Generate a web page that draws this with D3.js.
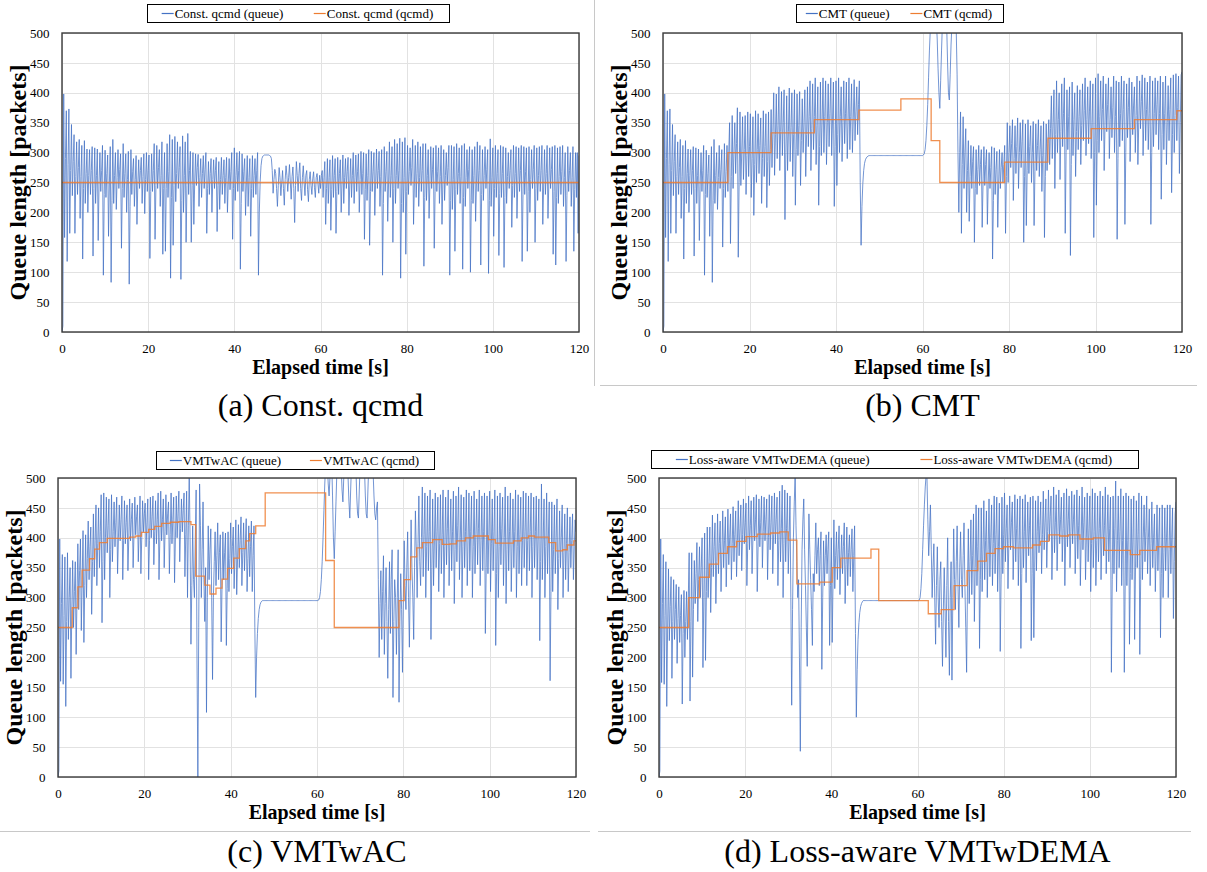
<!DOCTYPE html>
<html>
<head>
<meta charset="utf-8">
<script src="https://cdn.jsdelivr.net/npm/d3@7"></script>
<style>
  body { margin: 0; background: #fff; }
  svg { display: block; }
</style>
</head>
<body>
<svg id="fig" width="1207" height="872"></svg>
<script>
// ---------- shared axis values ----------
const SAMPLE_INTERVAL = 0.2;          // seconds between queue samples
const xTicks = [0, 20, 40, 60, 80, 100, 120];
const yTicks = [0, 50, 100, 150, 200, 250, 300, 350, 400, 450, 500];

// ---------- (a) Const. qcmd ----------
const constQueue = [
  0,10,398, 158,290,370, 118,280,373, 165,270,347, 228,285,330, 165,260,318, 230,275,322, 190,260,312, 122,240,320, 215,265,306,
  200,262,305, 230,270,310, 127,240,308, 215,262,306, 153,250,300, 235,270,312, 95,230,304, 225,265,296, 160,250,310, 83,220,322,
  215,262,300, 205,258,305, 240,272,298, 140,240,315, 225,265,298, 200,255,302, 80,210,305, 230,268,290, 210,255,295, 180,248,288,
  240,270,292, 215,260,298, 198,255,300, 235,270,296, 123,235,298, 235,270,315, 155,245,312, 240,275,305, 210,262,318, 130,240,300,
  135,240,315, 225,268,330, 90,225,322, 145,245,327, 218,265,318, 240,275,310, 88,220,328, 200,262,318, 150,245,332, 230,270,302,
  150,245,300, 180,250,298, 245,275,297, 210,258,290, 225,265,295, 240,272,300, 165,240,285, 230,265,290, 200,255,288, 240,270,292,
  168,245,285, 205,255,292, 230,262,288, 215,258,292, 200,250,290, 238,268,300, 155,240,308, 220,262,300, 235,270,302, 105,215,298,
  235,268,290, 195,250,295, 210,258,290, 160,240,295, 225,262,290, 230,270,300, 95,200,252, 278,290,294, 295,296,296, 296,296,296,
  296,295,294, 290,270,232, 255,272,265, 240,210,245, 275,258,228, 250,270,240, 212,255,278, 262,235,258, 280,250,222, 260,276,240,
  183,245,285, 262,235,265, 283,240,220, 258,278,250, 228,262,270, 238,218,255, 268,245,230, 256,268,242, 225,258,265, 248,232,262,
  240,262,270, 225,258,285, 180,240,290, 215,258,288, 170,238,295, 225,262,290, 165,235,292, 230,265,288, 200,250,296, 215,258,290,
  240,268,292, 195,250,290, 225,262,300, 215,258,296, 235,268,298, 200,255,302, 230,265,300, 155,238,298, 220,262,305, 145,235,302,
  235,268,300, 195,252,306, 240,270,302, 210,260,305, 95,215,310, 235,268,302, 185,250,318, 225,262,310, 150,240,322, 215,262,315,
  240,270,324, 90,215,318, 200,258,325, 130,235,312, 230,268,308, 245,275,322, 180,248,312, 225,265,318, 210,258,310, 235,270,315,
  110,225,315, 220,262,305, 190,250,310, 240,272,308, 140,235,312, 235,268,308, 215,260,312, 180,248,305, 220,262,300, 245,275,312,
  95,220,312, 205,255,310, 135,238,315, 230,265,308, 215,260,312, 105,225,315, 210,258,305, 240,272,310, 100,220,305, 215,262,310,
  185,248,318, 235,270,312, 112,230,305, 220,262,310, 240,272,305, 98,220,323, 210,258,308, 160,240,312, 225,265,305, 128,232,312,
  225,265,310, 108,225,308, 215,260,300, 240,270,305, 175,245,312, 225,265,310, 190,250,308, 235,270,312, 118,230,310, 230,268,308,
  135,235,310, 200,255,305, 240,272,312, 150,240,308, 220,262,310, 235,270,312, 180,248,305, 230,265,312, 190,250,308, 240,272,310,
  130,235,312, 112,225,308, 215,260,310, 230,268,312, 210,258,300, 118,228,310, 235,270,300, 210,258,310, 135,238,300, 225,300,165,
  295
];
const constQcmdTimes = [0, 120];
const constQcmdLevels = [250, 250];

// ---------- (b) CMT ----------
const cmtQueue = [
  0,10,398, 158,290,370, 118,280,373, 165,270,347, 228,285,330, 165,260,318, 230,275,322, 190,260,312, 122,240,320, 215,265,306,
  200,262,305, 230,270,310, 127,240,308, 215,262,306, 153,250,300, 235,270,312, 95,230,304, 225,265,296, 160,250,310, 83,220,322,
  215,262,300, 205,258,312, 240,272,305, 142,240,315, 225,268,312, 235,300,350, 148,260,362, 240,300,350, 265,315,375, 125,250,368,
  245,300,360, 255,305,362, 230,295,368, 260,310,365, 225,290,360, 195,280,370, 250,305,365, 265,312,358, 215,290,370, 260,310,365,
  208,285,368, 245,305,372, 275,335,400, 262,330,398, 290,345,410, 270,335,402, 295,350,405, 188,300,395, 270,335,408, 285,342,400,
  260,330,405, 212,305,398, 295,345,402, 245,320,390, 300,350,405, 260,330,410, 310,360,420, 270,340,415, 305,360,425, 280,345,410,
  212,310,418, 295,355,425, 300,360,420, 280,350,415, 310,365,425, 295,355,418, 210,310,420, 245,330,425, 300,360,410, 285,350,420,
  315,365,418, 290,355,425, 305,360,415, 300,358,422, 320,368,410, 330,380,420, 250,145,210, 248,270,282, 288,291,293, 294,295,295,
  295,295,295, 295,295,295, 295,295,295, 295,295,295, 295,295,295, 295,295,295, 295,295,295, 295,295,295, 295,295,295, 295,295,295,
  295,295,295, 295,295,295, 295,295,295, 295,295,295, 295,295,295, 295,295,295, 295,295,295, 295,295,295, 295,295,295, 295,295,295,
  295,296,298, 305,320,345, 380,425,470, 505,525,530, 525,515,525, 530,520,490, 440,400,374, 420,470,515, 530,525,520, 530,510,450,
  400,388,430, 480,515,530, 520,525,530, 505,430,300, 200,300,368, 165,280,360, 240,300,340, 200,270,320, 185,260,312, 240,285,310,
  150,240,305, 230,272,312, 245,280,305, 175,250,310, 245,280,305, 180,250,300, 240,275,310, 122,220,308, 230,272,302, 175,248,305,
  240,275,300, 250,280,312, 165,260,350, 250,300,345, 275,315,355, 220,290,345, 265,310,358, 240,300,350, 275,318,355, 150,260,348,
  178,270,355, 265,310,345, 250,300,352, 178,268,348, 270,312,355, 260,305,345, 235,295,352, 158,260,348, 270,315,355, 280,340,395,
  290,350,405, 240,330,420, 300,355,400, 255,335,415, 310,365,425, 165,300,405, 305,360,410, 128,280,418, 295,355,400, 260,335,412,
  305,360,405, 280,345,415, 320,370,425, 295,355,410, 315,368,420, 290,350,415, 158,300,425, 212,320,432, 300,360,420, 320,372,428,
  270,345,415, 335,380,425, 290,355,410, 325,375,428, 300,360,420, 155,290,418, 310,365,428, 320,372,420, 180,300,415, 325,375,425,
  285,350,418, 330,378,410, 300,362,428, 280,350,420, 340,385,430, 295,360,425, 320,372,418, 305,365,428, 180,300,420, 310,365,425,
  330,380,420, 305,365,428, 222,330,418, 305,365,428, 280,350,412, 320,372,425, 233,330,430, 300,362,432, 320,375,428, 265,350,430,
  435
];
const cmtQcmdTimes = [0, 15, 25, 35, 45.3, 55, 62, 64, 79, 89, 99, 109, 118.8, 120];
const cmtQcmdLevels = [250, 300, 333, 355, 371, 390, 320, 250, 284, 324, 340, 355, 370, 370];

// ---------- (c) VMTwAC ----------
const vmtQueue = [
  0,10,398, 160,290,372, 155,270,368, 118,260,375, 230,300,350, 165,280,362, 250,310,360, 205,300,390, 280,345,398, 245,330,412,
  225,320,405, 300,365,428, 330,385,418, 272,360,440, 335,395,455, 320,390,450, 350,410,472, 258,360,475, 330,400,468, 375,420,465,
  300,380,472, 360,410,460, 385,425,468, 340,400,455, 395,430,470, 330,395,462, 390,425,455, 345,400,465, 395,430,458, 350,405,468,
  405,435,455, 360,410,470, 340,400,462, 410,440,458, 385,425,465, 330,395,468, 400,435,470, 355,410,462, 390,430,475, 330,400,478,
  395,430,465, 350,410,472, 405,440,460, 340,405,475, 390,430,468, 325,400,470, 400,440,478, 360,415,465, 410,445,475, 335,405,478,
  300,420,505, 400,222,320, 420,330,300, 400,480,200, 0,250,490, 420,300,380, 460,330,260, 350,108,300, 420,330,380, 415,300,163,
  300,360,410, 320,370,425, 330,375,405, 226,320,410, 330,375,408, 220,315,410, 310,365,425, 340,385,418, 315,370,430, 305,365,422,
  350,395,435, 320,375,425, 345,390,432, 310,365,420, 335,385,428, 310,370,420, 250,133,200, 240,265,280, 288,292,294, 295,295,295,
  295,295,295, 295,295,295, 295,295,295, 295,295,295, 295,295,295, 295,295,295, 295,295,295, 295,295,295, 295,295,295, 295,295,295,
  295,295,295, 295,295,295, 295,295,295, 295,295,295, 295,295,295, 295,295,295, 295,295,295, 295,295,295, 295,295,295, 295,295,295,
  295,295,296, 300,310,330, 360,400,445, 490,520,530, 520,490,470, 500,530,530, 470,400,365, 410,460,510, 530,530,525, 530,520,480,
  460,500,530, 530,525,530, 500,460,433, 480,525,530, 530,525,530, 520,470,440, 433,480,525, 530,530,525, 530,515,470, 440,433,480,
  525,530,530, 525,530,510, 470,440,430, 450,460,330, 200,290,345, 230,310,370, 205,290,350, 260,165,280, 360,240,330, 380,133,260,
  330,300,205, 300,380,125, 260,340,280, 175,300,395, 320,280,350, 410,300,217, 330,430,350, 300,230,350, 445,380,300, 390,470,360,
  320,400,485, 335,405,475, 300,385,470, 345,410,480, 230,350,465, 320,395,475, 350,410,468, 310,390,472, 340,405,480, 300,385,468,
  355,415,480, 320,395,465, 345,410,478, 290,380,470, 360,420,485, 330,400,472, 300,385,468, 350,410,480, 320,395,475, 345,410,470,
  300,385,478, 340,405,465, 355,415,480, 320,395,470, 345,410,475, 240,350,470, 340,405,478, 310,390,465, 345,410,480, 220,340,470,
  300,385,475, 355,415,468, 320,400,485, 290,380,470, 345,410,475, 310,390,465, 350,410,480, 300,385,472, 340,405,468, 320,395,478,
  350,410,475, 320,395,470, 345,410,475, 300,385,468, 350,410,470, 330,400,465, 228,360,490, 330,400,465, 300,385,475, 340,400,460,
  161,310,460, 310,380,455, 340,400,465, 280,365,445, 350,400,455, 300,375,440, 330,390,450, 310,375,435, 350,395,440, 330,385,430,
  410
];
const vmtQcmdTimes = [0, 3.3, 4.6, 5.6, 7.3, 8.5, 9.6, 11.4, 16.6, 18, 19.3, 21, 22.4, 24, 26, 28, 30.8, 31.9, 34, 35.2,
  36.6, 38, 39.3, 40.7, 42, 43.5, 44.4, 45.8, 48, 62, 64, 79, 80.2, 81.7, 83.1, 84.4, 86.8, 89, 90.8, 92.3,
  94.4, 96.2, 99.7, 101.3, 105.5, 107.3, 109, 110.4, 113.7, 115.3, 116.9, 118, 119.5, 120];
const vmtQcmdLevels = [250, 283, 318, 346, 365, 381, 392, 399, 401, 403, 409, 414, 419, 424, 426, 427, 422, 336, 321, 306,
  316, 331, 349, 366, 382, 395, 407, 420, 475, 362, 250, 295, 330, 368, 383, 392, 397, 389, 390, 395,
  400, 403, 397, 391, 395, 400, 403, 401, 392, 378, 380, 388, 395, 395];

// ---------- (d) Loss-aware VMTwDEMA ----------
const demaQueue = [
  0,10,398, 158,290,372, 155,270,360, 118,250,348, 228,285,335, 165,260,330, 230,280,322, 190,265,318, 225,270,305, 122,240,312,
  200,260,310, 230,300,375, 127,260,375, 167,280,362, 290,340,392, 260,330,385, 300,350,400, 183,300,408, 195,310,418, 300,360,418,
  275,350,438, 335,385,425, 290,360,440, 340,390,428, 310,375,445, 350,395,435, 318,380,448, 355,400,440, 330,390,452, 360,405,445,
  335,395,462, 370,415,455, 345,405,465, 390,425,458, 320,390,470, 380,420,462, 340,400,468, 395,430,472, 310,385,465, 385,425,470,
  350,410,468, 395,430,465, 330,400,472, 380,425,470, 340,405,475, 390,430,468, 320,395,478, 360,415,488, 300,390,480, 360,415,475,
  340,400,470, 300,120,280, 400,460,505, 420,360,300, 330,200,43, 250,380,430, 465,380,320, 250,185,320, 440,380,330, 280,220,340,
  310,370,425, 340,380,400, 320,370,410, 180,300,395, 320,370,405, 340,380,410, 220,320,400, 225,330,430, 315,370,410, 330,380,420,
  305,365,405, 340,385,425, 290,355,418, 320,375,405, 335,380,415, 310,370,420, 240,100,180, 230,258,275, 285,290,293, 295,295,295,
  295,295,295, 295,295,295, 295,295,295, 295,295,295, 295,295,295, 295,295,295, 295,295,295, 295,295,295, 295,295,295, 295,295,295,
  295,295,295, 295,295,295, 295,295,295, 295,295,295, 295,295,295, 295,295,295, 295,295,295, 295,295,295, 295,295,295, 295,295,295,
  295,295,296, 300,315,340, 380,420,455, 485,505,500, 430,370,410, 455,380,300, 350,390,300, 222,320,385, 300,250,330, 360,260,185,
  280,350,280, 200,320,400, 260,170,300, 360,162,300, 415,330,280, 360,420,320, 250,350,410, 330,300,370, 425,320,250, 175,320,415,
  290,360,430, 305,370,440, 260,350,455, 320,385,450, 215,330,450, 310,380,462, 330,395,445, 300,380,465, 335,400,455, 320,390,470,
  340,405,468, 310,385,458, 210,330,468, 340,405,475, 360,415,455, 315,390,470, 380,425,460, 330,400,472, 360,415,465, 320,395,470,
  215,340,465, 350,410,472, 325,395,460, 370,420,468, 228,340,470, 233,350,462, 345,410,470, 375,420,460, 340,405,478, 380,425,465,
  350,410,480, 395,435,470, 330,405,485, 375,425,472, 345,410,480, 390,430,468, 360,415,475, 320,400,482, 385,430,470, 350,410,478,
  390,430,472, 340,405,480, 365,420,470, 320,395,485, 380,425,468, 330,400,475, 360,415,470, 310,390,482, 350,410,475, 320,395,470,
  360,415,478, 330,400,470, 370,420,485, 340,405,472, 360,415,468, 175,330,470, 340,415,495, 310,395,470, 350,410,482, 320,395,470,
  175,320,475, 320,395,470, 222,340,465, 330,400,470, 230,350,462, 350,405,475, 205,330,470, 330,400,455, 360,410,470, 340,400,448,
  320,390,460, 350,400,440, 310,380,455, 345,400,450, 233,340,455, 300,375,450, 345,400,455, 300,380,455, 340,400,450, 265,360,440,
  460
];
const demaQcmdTimes = [0, 6.9, 9.4, 11.7, 13.8, 15.9, 18, 20.2, 22.8, 25.9, 28, 30, 32, 37.3, 40.2, 42.2, 49.2, 51,
  62.5, 65.5, 68.5, 71.5, 74, 76, 78, 80, 82.3, 86.7, 88.5, 90.5, 93, 95, 97.7, 100.8, 103.4, 109.4, 111.6, 115.5, 120];
const demaQcmdLevels = [250, 300, 334, 356, 374, 385, 394, 402, 406, 408, 410, 396, 323, 326, 350, 366, 381, 295,
  273, 280, 320, 345, 361, 374, 382, 385, 383, 388, 394, 405, 403, 405, 398, 400, 379, 372, 379, 385, 385];

// ---------- styling ----------
const SERIF = '"Liberation Serif", "Times New Roman", Times, serif';
const QUEUE_COLOR = '#4472C4';
const QCMD_COLOR = '#ED7D31';

// ---------- panel layout ----------
const panels = [
  { id: 'a', name: 'Const. qcmd', caption: '(a) Const. qcmd', queue: constQueue, qt: constQcmdTimes, ql: constQcmdLevels,
    left: 62, right: 579, top: 33, bottom: 332, legend: [147, 449, 4, 22], captionY: 416 },
  { id: 'b', name: 'CMT', caption: '(b) CMT', queue: cmtQueue, qt: cmtQcmdTimes, ql: cmtQcmdLevels,
    left: 663, right: 1182, top: 33, bottom: 332, legend: [796, 1003, 4, 22], captionY: 416 },
  { id: 'c', name: 'VMTwAC', caption: '(c) VMTwAC', queue: vmtQueue, qt: vmtQcmdTimes, ql: vmtQcmdLevels,
    left: 58, right: 576, top: 478, bottom: 777, legend: [156, 434, 451, 469], captionY: 862 },
  { id: 'd', name: 'Loss-aware VMTwDEMA', caption: '(d) Loss-aware VMTwDEMA', queue: demaQueue, qt: demaQcmdTimes, ql: demaQcmdLevels,
    left: 659, right: 1176, top: 478, bottom: 777, legend: [651, 1138, 450, 468], captionY: 862 }
];

const svg = d3.select('#fig');

// frame separators between the sub-figures
const sep = svg.append('g').attr('stroke', '#c8c8c8').attr('stroke-width', 1);
sep.append('line').attr('x1', 594.5).attr('x2', 594.5).attr('y1', 0).attr('y2', 386);
sep.append('line').attr('x1', 600).attr('x2', 1197).attr('y1', 385.5).attr('y2', 385.5);
sep.append('line').attr('x1', 0).attr('x2', 590).attr('y1', 831.5).attr('y2', 831.5);
sep.append('line').attr('x1', 598).attr('x2', 1191).attr('y1', 831.5).attr('y2', 831.5);

panels.forEach(p => drawPanel(p));

function drawPanel(p) {
  const g = svg.append('g').attr('class', 'panel-' + p.id);
  const x = d3.scaleLinear().domain([0, 120]).range([p.left, p.right]);
  const y = d3.scaleLinear().domain([0, 500]).range([p.bottom, p.top]);

  // grid
  const grid = g.append('g').attr('stroke', '#e2e2e2').attr('stroke-width', 1);
  grid.selectAll('line.h').data(yTicks).join('line').attr('class', 'h')
    .attr('x1', p.left).attr('x2', p.right)
    .attr('y1', d => Math.round(y(d)) + 0.5).attr('y2', d => Math.round(y(d)) + 0.5);
  grid.selectAll('line.v').data(xTicks).join('line').attr('class', 'v')
    .attr('y1', p.top).attr('y2', p.bottom)
    .attr('x1', d => Math.round(x(d)) + 0.5).attr('x2', d => Math.round(x(d)) + 0.5);

  // clip to the plotting area
  const clipId = 'clip-' + p.id;
  g.append('clipPath').attr('id', clipId)
    .append('rect').attr('x', p.left).attr('y', p.top)
    .attr('width', p.right - p.left).attr('height', p.bottom - p.top);
  const plot = g.append('g').attr('clip-path', `url(#${clipId})`);

  // queue length trace
  const queueLine = d3.line()
    .x((d, i) => x(i * SAMPLE_INTERVAL))
    .y(d => y(d));
  plot.append('path').datum(p.queue)
    .attr('fill', 'none').attr('stroke', QUEUE_COLOR)
    .attr('stroke-width', 0.75).attr('stroke-linejoin', 'round')
    .attr('d', queueLine);

  // queue target (qcmd) as a step function
  const qcmd = p.qt.map((t, i) => [t, p.ql[i]]);
  const stepLine = d3.line().curve(d3.curveStepAfter)
    .x(d => x(d[0])).y(d => y(d[1]));
  plot.append('path').datum(qcmd)
    .attr('fill', 'none').attr('stroke', QCMD_COLOR)
    .attr('stroke-width', 1.3).attr('opacity', 0.85)
    .attr('d', stepLine);

  // plot border
  g.append('rect').attr('x', p.left).attr('y', p.top)
    .attr('width', p.right - p.left).attr('height', p.bottom - p.top)
    .attr('fill', 'none').attr('stroke', '#3a3a3a').attr('stroke-width', 1.4);

  // axes
  const gx = g.append('g').attr('transform', `translate(0,${p.bottom})`)
    .call(d3.axisBottom(x).tickValues(xTicks).tickSize(0).tickPadding(12));
  gx.select('.domain').remove();
  gx.attr('font-family', SERIF).attr('font-size', 13);
  gx.selectAll('text').attr('fill', '#000');

  const gy = g.append('g').attr('transform', `translate(${p.left},0)`)
    .call(d3.axisLeft(y).tickValues(yTicks).tickSize(0).tickPadding(12.5));
  gy.select('.domain').remove();
  gy.attr('font-family', SERIF).attr('font-size', 13);
  gy.selectAll('text').attr('fill', '#000');

  // axis titles
  const cx = (p.left + p.right) / 2;
  const cy = (p.top + p.bottom) / 2;
  g.append('text').attr('x', cx).attr('y', p.bottom + 42)
    .attr('text-anchor', 'middle').attr('font-family', SERIF)
    .attr('font-weight', 'bold').attr('font-size', 20).text('Elapsed time [s]');
  g.append('text')
    .attr('transform', `translate(${p.left - 36.5},${cy}) rotate(-90)`)
    .attr('text-anchor', 'middle').attr('font-family', SERIF)
    .attr('font-weight', 'bold').attr('font-size', 24).text('Queue length [packets]');

  // caption
  g.append('text').attr('x', cx).attr('y', p.captionY)
    .attr('text-anchor', 'middle').attr('font-family', SERIF)
    .attr('font-size', 32).text(p.caption);

  // legend
  const [lx0, lx1, ly0, ly1] = p.legend;
  const lg = g.append('g');
  lg.append('rect').attr('x', lx0 + 0.5).attr('y', ly0 + 0.5)
    .attr('width', lx1 - lx0).attr('height', ly1 - ly0)
    .attr('fill', '#fff').attr('stroke', '#000').attr('stroke-width', 1);
  const items = [
    { label: `${p.name} (queue)`, color: QUEUE_COLOR },
    { label: `${p.name} (qcmd)`, color: QCMD_COLOR }
  ];
  const midY = (ly0 + ly1) / 2 + 0.5;
  items.forEach((it, k) => {
    const half = (lx1 - lx0) / 2;
    const centre = lx0 + half * (k + 0.5);
    const t = lg.append('text').attr('font-family', SERIF).attr('font-size', 13)
      .attr('y', midY + 4.5).text(it.label);
    const w = t.node().getComputedTextLength();
    const sample = 12;
    const start = centre - (sample + 1 + w) / 2;
    t.attr('x', start + sample + 1);
    lg.append('line').attr('x1', start).attr('x2', start + sample)
      .attr('y1', midY).attr('y2', midY)
      .attr('stroke', it.color).attr('stroke-width', 1.2);
  });
}
</script>
</body>
</html>
